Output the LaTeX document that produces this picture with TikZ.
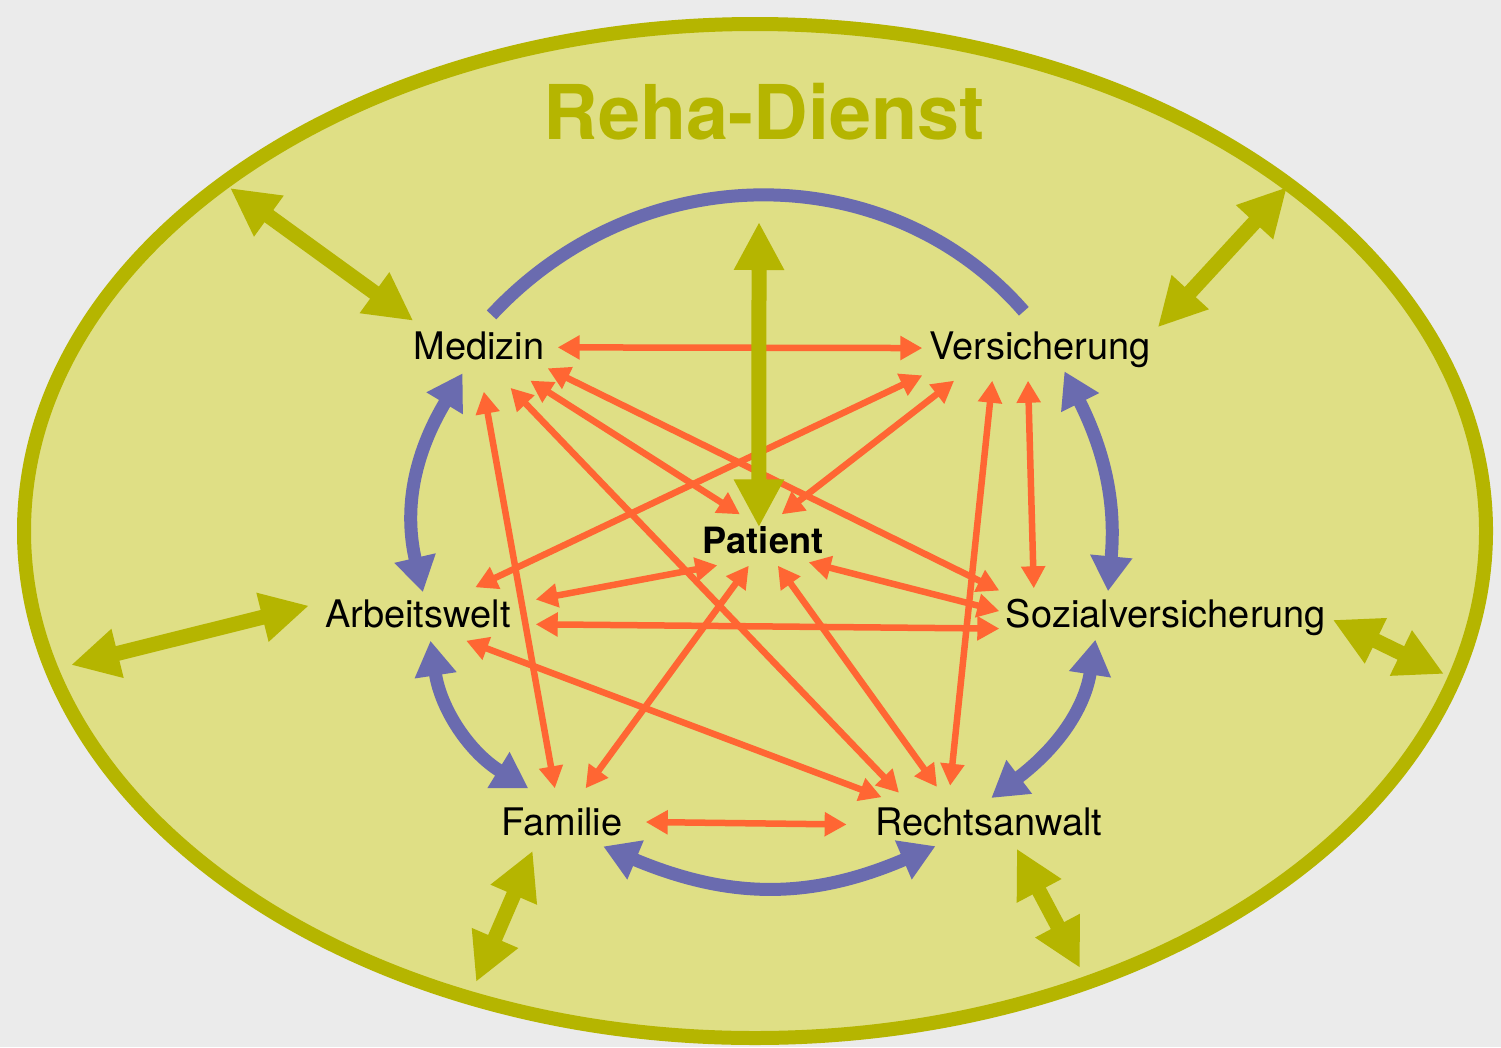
\documentclass[tikz,border=0pt]{standalone}
\usepackage{fontspec}
\setmainfont{TeX Gyre Heros}
\usetikzlibrary{arrows.meta,shapes.geometric}
\definecolor{rehabg}{HTML}{EBEBEB}
\definecolor{rehafill}{HTML}{DFDF85}
\definecolor{reholive}{HTML}{B5B500}
\definecolor{rehblue}{HTML}{6A6BAF}
\definecolor{rehorange}{HTML}{FF6633}
\tikzset{
  hub/.style={inner xsep=-2mm, inner ysep=0pt, text height=7.7pt, text depth=0pt,
    font=\fontsize{10.8}{12}\selectfont},
  orng/.style={draw=rehorange, line width=0.65mm, >={Triangle[length=2.2mm,width=2.3mm]}, <->},
  blu/.style={draw=rehblue, line width=1.3mm},
  bluarr/.style={blu, >={Triangle[length=3.5mm,width=4mm]}, <->},
  oliv/.style={draw=reholive, line width=1.5mm, >={Triangle[length=4.8mm,width=4.7mm]}, <->},
}
\begin{document}
\begin{tikzpicture}[x=0.1mm,y=-0.1mm]
  \fill[rehabg] (0,0) rectangle (1501,1047);
  \useasboundingbox (0,0) rectangle (1501,1047);
  \draw[reholive, fill=rehafill, line width=1.4mm] (755,531) ellipse [x radius=73.1mm, y radius=50.7mm];
  \node[font=\bfseries\fontsize{21.5}{24}\selectfont, text=reholive] (title) at (764,112) {Reha-Dienst};
  % Knoten
  \node[hub, ellipse, minimum width=15.6mm, minimum height=9mm] (med) at (479,346) {Medizin};
  \node[hub, minimum width=23.4mm, minimum height=6.8mm] (ver) at (1040,346) {Versicherung};
  \node[hub, minimum width=9mm, minimum height=5mm, font=\bfseries\fontsize{10.3}{12}\selectfont] (pat) at (763,540) {Patient};
  \node[hub, minimum width=23.4mm, minimum height=5.2mm] (arb) at (418,614) {Arbeitswelt};
  \node[hub, minimum width=33.2mm, minimum height=5mm] (soz) at (1166,614) {Sozialversicherung};
  \node[hub, minimum width=16.6mm, minimum height=6.6mm] (fam) at (562,822) {Familie};
  \node[hub, ellipse, minimum width=28.4mm, minimum height=7.4mm] (rec) at (989,822) {Rechtsanwalt};
  % alle mit allen
  \draw[orng] (med.-1.5) -- (ver.-179);
  \draw[orng] (med.-18.2) -- (soz.172.6);
  \draw[orng] (med.-34.8) -- (pat.132.4);
  \draw[orng] (med.-53.7) -- (rec.162.3);
  \draw[orng] (med.-84.9) -- (fam.102);
  \draw[orng] (ver.-166.6) -- (arb.25.3);
  \draw[orng] (ver.-158.2) -- (pat.54.7);
  \draw[orng] (ver.-144.1) -- (rec.137.9);
  \draw[orng] (ver.-109.4) -- (soz.169.4);
  \draw[orng] (arb.7.1) -- (pat.-151.9);
  \draw[orng] (arb.-5.4) -- (soz.-175.2);
  \draw[orng] (arb.-29) -- (rec.167.9);
  \draw[orng] (pat.-26.6) -- (soz.179.3);
  \draw[orng] (pat.-119.1) -- (fam.55.1);
  \draw[orng] (pat.-60.75) -- (rec.146.6);
  \draw[orng] (fam.-0.7) -- (rec.-179.6);
  % Ring
  \draw[blu, shorten <=-1.7mm] (med.61.4) to[bend left=48] (ver.115);
  \draw[bluarr, shorten <=-0.5mm, shorten >=-1.85mm] (arb.82.3) to[bend left=22] (med.-121);
  \draw[bluarr, shorten <=-1.05mm, shorten >=-0.3mm] (ver.-50.3) to[bend left=16] (soz.156.7);
  \draw[bluarr] (arb.-65.2) to[bend right=25] (fam.135.8);
  \draw[bluarr, shorten >=-2.2mm] (soz.-160.1) to[bend left=22] (rec.62.3);
  \draw[bluarr, shorten <=-2.4mm, shorten >=-2.1mm] (fam.-28.3) to[bend right=23] (rec.-156.9);
  % nach aussen
  \coordinate (mednw) at (230,188);
  \coordinate (verne) at (1287,187);
  \coordinate (arbw) at (71,665);
  \coordinate (soze) at (1444,674);
  \coordinate (famsw) at (476,982);
  \coordinate (recse) at (1080,968);
  \coordinate (pattop) at (759,222);
  \draw[oliv] (mednw) -- (med.159);
  \draw[oliv] (verne) -- (ver.9.5);
  \draw[oliv, shorten >=-0.9mm] (arbw) -- (arb.177.9);
  \draw[oliv] (soze) -- (soz.-2);
  \draw[oliv, shorten >=-0.55mm] (famsw) -- (fam.-133.3);
  \draw[oliv, shorten >=-1.15mm] (recse) -- (rec.-48.9);
  \draw[oliv, shorten >=-1.3mm] (pattop) -- (pat.99);
\end{tikzpicture}
\end{document}
